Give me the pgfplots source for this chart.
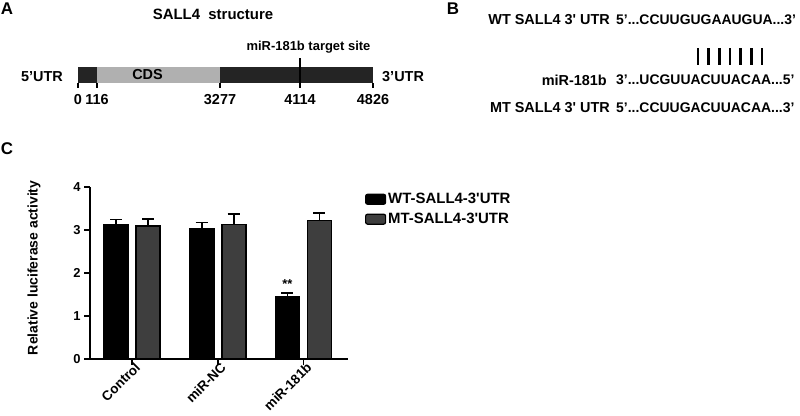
\documentclass[border=0pt]{standalone}
\usepackage{fontspec}
\setmainfont{Liberation Sans}
\usepackage{pgfplots}
\pgfplotsset{compat=1.18}
\definecolor{darkseg}{HTML}{242424}
\definecolor{cdsgrey}{HTML}{B0B0B0}
\definecolor{mtgrey}{HTML}{3E3E3E}
\newcommand{\fs}[1]{\fontsize{#1}{#1}\selectfont\bfseries}
\pgfplotsset{rectlegend/.style={legend image code/.code={\draw[##1, rounded corners=2bp, line width=1.2bp] (0bp,-5bp) rectangle (20bp,5bp);}}}
\begin{document}
\begin{tikzpicture}[x=1bp,y=1bp]
\useasboundingbox (0,0) rectangle (800,415);
% panel letters
\node[font=\fs{17}] at (7,406) {A};
\node[font=\fs{17}] at (453,406) {B};
\node[font=\fs{17}] at (7,266) {C};
% Panel A titles
\node[font=\fs{15}] at (213,401) {SALL4\ \ structure};
\node[font=\fs{13}] at (308.5,368) {miR-181b target site};
\node[font=\fs{14.5}, anchor=east, inner sep=0pt] at (63,338) {5’UTR};
\node[font=\fs{14.5}, anchor=west, inner sep=0pt] at (382,338) {3’UTR};
% Panel A schematic axis
\begin{axis}[at={(78bp,332bp)}, anchor=south west, scale only axis,
  width=295bp, height=16bp, xmin=78, xmax=373, ymin=0, ymax=1,
  axis line style={draw=none}, ytick=\empty,
  xtick={78,97,220,300,373}, xticklabels={0,116,3277,4114,4826},
  xtick pos=left, tick align=outside, major tick length=5bp,
  tick style={black, line width=1.2bp},
  xticklabel style={font=\fs{14.5}, yshift=-3bp},
  clip=false]
\addplot[fill=darkseg, draw=none, mark=none] coordinates {(78,1)(97,1)} \closedcycle;
\addplot[fill=cdsgrey, draw=none, mark=none] coordinates {(97,1)(220,1)} \closedcycle;
\addplot[fill=darkseg, draw=none, mark=none] coordinates {(220,1)(373,1)} \closedcycle;
\addplot[black, line width=1.5bp, mark=none] coordinates {(300,0)(300,1.56)};
\node[font=\fs{14.5}] at (axis cs:147.5,0.5) {CDS};
\end{axis}
% Panel B
\node[font=\fs{14.5}, anchor=east, inner sep=0pt] at (610,395) {WT SALL4 3\textquotesingle\ UTR};
\node[font=\fs{14}, anchor=west, inner sep=0pt] at (616,395) {5’...CCUUGUGAAUGUA...3’};
\node[font=\fs{14.5}, anchor=east, inner sep=0pt] at (607,335) {miR-181b};
\node[font=\fs{14}, anchor=west, inner sep=0pt] at (616,335) {3’...UCGUUACUUACAA...5’};
\node[font=\fs{14.5}, anchor=east, inner sep=0pt] at (610,307) {MT SALL4 3\textquotesingle\ UTR};
\node[font=\fs{14}, anchor=west, inner sep=0pt] at (616,307) {5’...CCUUGACUUACAA...3’};
\foreach \k in {0,...,6} \draw[line width=2.5bp] ({698+\k*10.67},367) -- ({698+\k*10.67},350);
% Panel C
\begin{axis}[at={(90bp,56bp)}, anchor=south west, scale only axis,
  width=258bp, height=172bp, xmin=-0.49, xmax=2.52, ymin=0, ymax=4,
  axis lines=left, axis line style={-, line width=1.6bp},
  ybar, bar width=24bp,
  xtick={0,1,2}, xticklabels={Control,miR-NC,miR-181b},
  xticklabel style={rotate=45, anchor=north east, font=\fs{13.5}, inner sep=1bp, xshift=5bp, yshift=2bp},
  ytick={0,1,2,3,4},
  yticklabel style={font=\fs{13}},
  /pgf/number format/assume math mode=true,
  tick align=outside, major tick length=6bp,
  tick style={line width=1.6bp, black},
  ylabel={Relative luciferase activity},
  ylabel style={font=\fs{14}, at={(axis description cs:-0.217,0.53)}, anchor=center, rotate=0},
  legend style={draw=none, fill=none, inner sep=0pt, outer sep=0pt,
    anchor=north west, at={(axis description cs:1.066,0.975)},
    font=\fs{15}, row sep=4bp},
  legend cell align=left,
  clip=false]
\addplot[fill=black, draw=black, line width=1.6bp, bar shift=-16bp, rectlegend,
  error bars/.cd, y dir=plus, y explicit,
  error bar style={line width=1.6bp, black},
  error mark options={rotate=90, line width=1.6bp, mark size=6bp, black}]
  coordinates {(0,3.13) +- (0,0.11) (1,3.03) +- (0,0.14) (2,1.45) +- (0,0.08)};
\addplot[fill=mtgrey, draw=black, line width=1.6bp, bar shift=16bp, rectlegend,
  error bars/.cd, y dir=plus, y explicit,
  error bar style={line width=1.6bp, black},
  error mark options={rotate=90, line width=1.6bp, mark size=6bp, black}]
  coordinates {(0,3.10) +- (0,0.15) (1,3.13) +- (0,0.24) (2,3.22) +- (0,0.17)};
\legend{WT-SALL4-3\textquotesingle UTR, MT-SALL4-3\textquotesingle UTR}
\node[font=\fs{13}, anchor=base] at (axis cs:1.813,1.63) {**};
\end{axis}
\end{tikzpicture}
\end{document}
